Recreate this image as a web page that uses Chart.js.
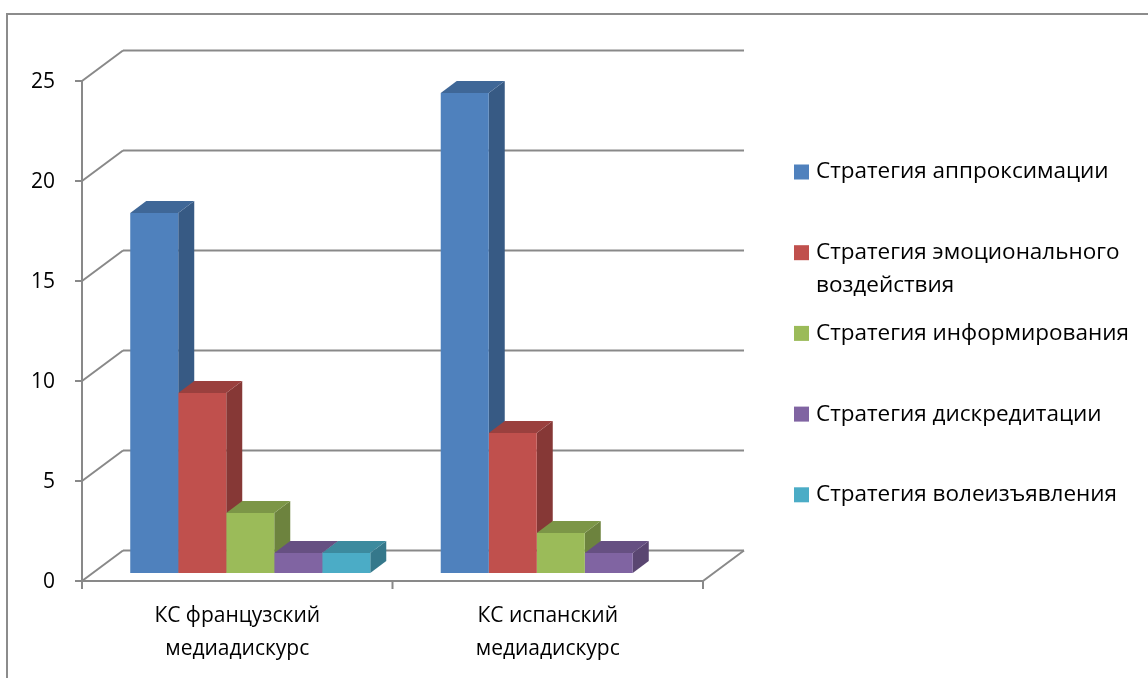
<!DOCTYPE html>
<html>
<head>
<meta charset="utf-8">
<script src="https://cdn.jsdelivr.net/npm/chart.js@4.4.1/dist/chart.umd.min.js"></script>
<style>
  html, body { margin: 0; padding: 0; background: #ffffff; }
  #wrap { position: relative; width: 1148px; height: 678px; }
</style>
</head>
<body>
<div id="wrap"><canvas id="chart" width="1148" height="678"></canvas></div>
<script>
// Categories (two-line axis labels)
const categories = [
  ['КС французский', 'медиадискурс'],
  ['КС испанский', 'медиадискурс']
];

// Series names
const seriesNames = [
  'Стратегия аппроксимации',
  'Стратегия эмоционального воздействия',
  'Стратегия информирования',
  'Стратегия дискредитации',
  'Стратегия волеизъявления'
];

// Series values per category
const approximation = [18, 24];
const emotional     = [9, 7];
const informing     = [3, 2];
const discrediting  = [1, 1];
const volition      = [1, 0];

// Value axis tick labels
const yTicks = [0, 5, 10, 15, 20, 25];

// Series colours
const seriesColors = ['#4F81BD', '#C0504D', '#9BBB59', '#8064A2', '#4BACC6'];

const seriesValues = [approximation, emotional, informing, discrediting, volition];

const FONT = '"Open Sans", "Noto Sans", "DejaVu Sans", sans-serif';
const AXIS_FONT_SIZE = 21;
const LEGEND_FONT_SIZE = 22.5;

// Perspective geometry: the bars stand in the chart-area plane; the front
// axis plane sits slightly in front of it and the back wall further behind.
const FRONT = { dx: -13, dy: 8 };
const BACK  = { dx: 28,  dy: -22.5 };
const DEPTH = { dx: 16,  dy: -12 };
const GRID_COLOR = '#898989';

function shade(hex, f) {
  const n = parseInt(hex.slice(1), 16);
  const r = Math.round(((n >> 16) & 255) * f);
  const g = Math.round(((n >> 8) & 255) * f);
  const b = Math.round((n & 255) * f);
  return 'rgb(' + r + ',' + g + ',' + b + ')';
}

function poly(ctx, pts, fill) {
  ctx.beginPath();
  ctx.moveTo(pts[0][0], pts[0][1]);
  for (let i = 1; i < pts.length; i++) ctx.lineTo(pts[i][0], pts[i][1]);
  ctx.closePath();
  ctx.fillStyle = fill;
  ctx.fill();
}

function line(ctx, x1, y1, x2, y2) {
  ctx.beginPath();
  ctx.moveTo(x1, y1);
  ctx.lineTo(x2, y2);
  ctx.stroke();
}

function wrapText(ctx, text, maxWidth) {
  const words = text.split(' ');
  const lines = [];
  let cur = '';
  words.forEach(w => {
    const test = cur ? cur + ' ' + w : w;
    if (cur && ctx.measureText(test).width > maxWidth) {
      lines.push(cur);
      cur = w;
    } else {
      cur = test;
    }
  });
  if (cur) lines.push(cur);
  return lines;
}

const pseudo3d = {
  id: 'pseudo3d',
  beforeDatasetsDraw(chart) {
    const ctx = chart.ctx;
    const area = chart.chartArea;
    const ys = chart.scales.y;

    // back wall grid with the connecting diagonals from the front axis
    ctx.save();
    ctx.strokeStyle = GRID_COLOR;
    ctx.lineWidth = 2;
    const fl = area.left + FRONT.dx, bl = area.left + BACK.dx, br = area.right + BACK.dx;
    yTicks.forEach(v => {
      const y = ys.getPixelForValue(v);
      line(ctx, fl, y + FRONT.dy, bl, y + BACK.dy);
      line(ctx, bl, y + BACK.dy, br, y + BACK.dy);
    });
    // floor: right edge diagonal
    const y0 = ys.getPixelForValue(0);
    line(ctx, area.right + FRONT.dx, y0 + FRONT.dy, br, y0 + BACK.dy);
    ctx.restore();

    // side and top faces, left to right so nearer bars overlap correctly
    const bars = [];
    chart.data.datasets.forEach((ds, i) => {
      const meta = chart.getDatasetMeta(i);
      meta.data.forEach((el, j) => {
        if (!(ds.data[j] > 0)) return;
        bars.push({
          x0: el.x - el.width / 2,
          x1: el.x + el.width / 2,
          top: el.y,
          base: el.base,
          color: seriesColors[i]
        });
      });
    });
    bars.sort((a, b) => a.x0 - b.x0);
    ctx.save();
    bars.forEach(b => {
      poly(ctx, [
        [b.x1, b.top], [b.x1 + DEPTH.dx, b.top + DEPTH.dy],
        [b.x1 + DEPTH.dx, b.base + DEPTH.dy], [b.x1, b.base]
      ], shade(b.color, 0.7));
      poly(ctx, [
        [b.x0, b.top], [b.x1, b.top],
        [b.x1 + DEPTH.dx, b.top + DEPTH.dy], [b.x0 + DEPTH.dx, b.top + DEPTH.dy]
      ], shade(b.color, 0.8));
    });
    ctx.restore();
  },
  afterDraw(chart) {
    const ctx = chart.ctx;
    const area = chart.chartArea;
    const ys = chart.scales.y;
    const xs = chart.scales.x;

    ctx.save();
    // outer frame
    ctx.strokeStyle = '#8c8c8c';
    ctx.lineWidth = 2;
    ctx.beginPath();
    ctx.moveTo(7, 678);
    ctx.lineTo(7, 14);
    ctx.lineTo(1148, 14);
    ctx.stroke();

    // front value axis with ticks
    ctx.strokeStyle = GRID_COLOR;
    ctx.lineWidth = 2;
    const ax = area.left + FRONT.dx;
    const yTop = ys.getPixelForValue(yTicks[yTicks.length - 1]) + FRONT.dy;
    const yBot = ys.getPixelForValue(0) + FRONT.dy;
    line(ctx, ax, yTop, ax, yBot + 8);
    yTicks.forEach(v => {
      const y = ys.getPixelForValue(v) + FRONT.dy;
      line(ctx, ax - 7, y, ax, y);
    });
    // front floor edge and category ticks
    const axRight = area.right + FRONT.dx;
    line(ctx, ax, yBot, axRight, yBot);
    const n = categories.length;
    const step = (area.right - area.left) / n;
    for (let i = 0; i <= n; i++) {
      const x = area.left + i * step + FRONT.dx;
      line(ctx, x, yBot, x, yBot + 8);
    }

    // value labels
    ctx.fillStyle = '#000000';
    ctx.font = AXIS_FONT_SIZE + 'px ' + FONT;
    ctx.textAlign = 'right';
    ctx.textBaseline = 'middle';
    yTicks.forEach(v => {
      ctx.fillText(String(v), 55, ys.getPixelForValue(v) + FRONT.dy + 1);
    });

    // category labels
    ctx.textAlign = 'center';
    categories.forEach((lines, i) => {
      const cx = xs.getPixelForValue(i) + FRONT.dx;
      lines.forEach((t, k) => {
        ctx.fillText(t, cx, 616 + k * 33);
      });
    });

    // legend
    ctx.font = LEGEND_FONT_SIZE + 'px ' + FONT;
    ctx.textAlign = 'left';
    seriesNames.forEach((name, i) => {
      const cy = 172 + i * 80.7;
      ctx.fillStyle = seriesColors[i];
      ctx.fillRect(794, cy - 7.5, 15, 15);
      ctx.fillStyle = '#000000';
      const lines = wrapText(ctx, name, 322);
      lines.forEach((t, k) => ctx.fillText(t, 816, cy + k * 33));
    });
    ctx.restore();
  }
};

const datasets = seriesNames.map((name, i) => ({
  label: name,
  data: seriesValues[i],
  backgroundColor: seriesColors[i],
  borderWidth: 0,
  barPercentage: 1,
  categoryPercentage: 0.773
}));

new Chart(document.getElementById('chart'), {
  type: 'bar',
  data: { labels: categories.map(c => c.join(' ')), datasets },
  options: {
    responsive: false,
    animation: false,
    layout: { padding: { left: 95, right: 432, top: 73, bottom: 105 } },
    plugins: { legend: { display: false }, tooltip: { enabled: false } },
    scales: {
      x: { display: false, offset: true },
      y: { display: false, min: 0, max: 25, ticks: { stepSize: 5 } }
    }
  },
  plugins: [pseudo3d]
});
</script>
</body>
</html>
